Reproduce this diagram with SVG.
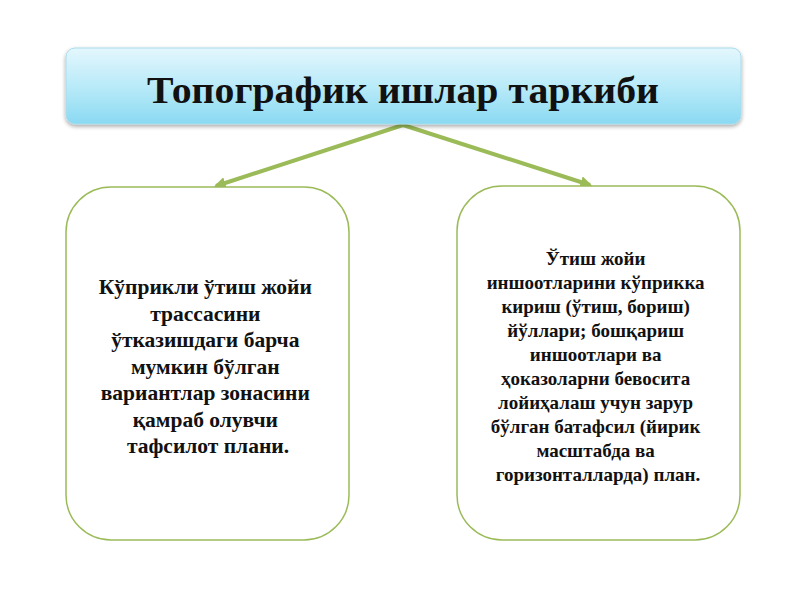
<svg xmlns="http://www.w3.org/2000/svg" width="800" height="600" viewBox="0 0 800 600">
<defs>
<linearGradient id="tg" x1="0" y1="0" x2="0" y2="1">
<stop offset="0" stop-color="#e4f7fd"/>
<stop offset="0.55" stop-color="#b5e9f8"/>
<stop offset="1" stop-color="#8ad9f2"/>
</linearGradient>
<filter id="sh" x="-5%" y="-10%" width="110%" height="130%">
<feGaussianBlur in="SourceAlpha" stdDeviation="2"/>
<feOffset dx="0" dy="2" result="b"/>
<feComponentTransfer><feFuncA type="linear" slope="0.35"/></feComponentTransfer>
<feMerge><feMergeNode/><feMergeNode in="SourceGraphic"/></feMerge>
</filter>
<marker id="ah" viewBox="0 0 10 10" refX="8" refY="5" markerWidth="3" markerHeight="3" orient="auto">
<path d="M0,0 L10,5 L0,10 z" fill="#9bbb59"/>
</marker>
<style>
.t{font-family:"Liberation Serif","DejaVu Serif",serif;font-weight:bold;fill:#111;text-anchor:middle}
.box{fill:#fff;stroke:#9bbb59;stroke-width:1.5}
.con{stroke:#9bbb59;stroke-width:4;fill:none}
</style>
</defs>
<rect width="800" height="600" fill="#fff"/>
<g id="connectors">
<line class="con" x1="403" y1="125" x2="216" y2="186" marker-end="url(#ah)"/>
<line class="con" x1="403" y1="125" x2="590" y2="185" marker-end="url(#ah)"/>
</g>
<g id="title">
<rect x="66" y="48" width="675" height="76" rx="9" fill="url(#tg)" stroke="#a9dceb" stroke-width="1" filter="url(#sh)"/>
<text class="t" x="403" y="103" font-size="38" textLength="512" lengthAdjust="spacingAndGlyphs">Топографик ишлар таркиби</text>
</g>
<g id="left">
<rect class="box" x="66" y="187" width="283" height="353" rx="45"/>
<text class="t" font-size="21.5">
<tspan x="208" y="294">Кўприкли ўтиш жойи</tspan>
<tspan x="208" y="320.5">трассасини</tspan>
<tspan x="208" y="347">ўтказишдаги барча</tspan>
<tspan x="208" y="373.5">мумкин бўлган</tspan>
<tspan x="208" y="400">вариантлар зонасини</tspan>
<tspan x="208" y="426.5">қамраб олувчи</tspan>
<tspan x="208" y="453">тафсилот плани.</tspan>
</text>
</g>
<g id="right">
<rect class="box" x="457" y="186" width="283" height="354" rx="45"/>
<text class="t" font-size="19">
<tspan x="598" y="265">Ўтиш жойи</tspan>
<tspan x="598" y="289">иншоотларини кўприкка</tspan>
<tspan x="598" y="313">кириш (ўтиш, бориш)</tspan>
<tspan x="598" y="337">йўллари; бошқариш</tspan>
<tspan x="598" y="361">иншоотлари ва</tspan>
<tspan x="598" y="385">ҳоказоларни бевосита</tspan>
<tspan x="598" y="409">лойиҳалаш учун зарур</tspan>
<tspan x="598" y="433">бўлган батафсил (йирик</tspan>
<tspan x="598" y="457">масштабда ва</tspan>
<tspan x="598" y="481">горизонталларда) план.</tspan>
</text>
</g>
</svg>
